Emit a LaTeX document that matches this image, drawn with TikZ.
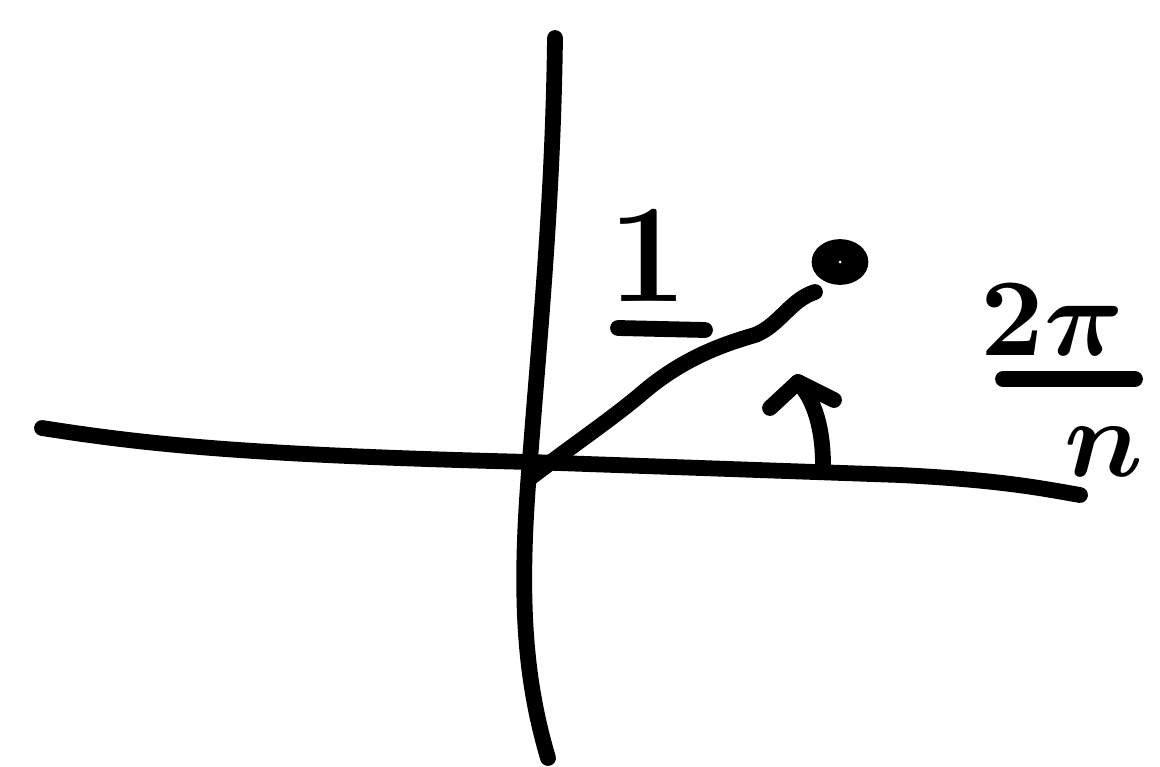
\documentclass[tikz,border=0pt]{standalone}
\usepackage{graphicx}
\usetikzlibrary{calc,shapes.geometric}
\begin{document}
\begin{tikzpicture}[x=0.02cm,y=-0.02cm,
  ink/.style={line width=9pt,line cap=round,line join=round,black},
  lbl/.style={inner sep=0pt}]
\useasboundingbox (0,0) rectangle (1160,767);
% named points
\coordinate (vtop) at (555,38);
\coordinate (vmid) at (530,460);
\coordinate (vbot) at (548,758);
\coordinate (hleft) at (42,428);
\coordinate (hright) at (1080,495);
\coordinate (origin) at (530,478);
\coordinate (vecend) at (815,292);
\coordinate (arcfoot) at (823,465);
\coordinate (arctip) at (798,382);
% axes
\draw[ink] (vtop) .. controls (553,200) and (540,330) .. (vmid)
  .. controls (518,600) and (525,680) .. (vbot);
\draw[ink] (hleft) .. controls (150,445) and (250,455) .. (530,462)
  -- (900,475) .. controls (1000,480) and (1040,488) .. (hright);
% vector
\draw[ink] (origin) .. controls (580,440) and (610,420) .. (640,395)
  .. controls (680,360) and (720,345) .. (755,335)
  .. controls (780,325) and (790,300) .. (vecend);
% point
\node[draw=black,fill=black,ellipse,minimum width=1.1cm,minimum height=0.88cm,inner sep=0pt,line width=1pt] (pt) at (840,262) {};
\fill[white] (pt.center) circle (0.03cm);
% angle arrow
\draw[ink] (arcfoot) .. controls (823,430) and (815,400) .. (arctip);
\draw[ink] (770,408) -- (arctip) -- (834,400);
% labels
\node[lbl,font=\fontsize{80}{90}\selectfont\bfseries] (one) at (648,255) {1};
\coordinate (barl) at (618,328);
\coordinate (barr) at (705,330);
\draw[ink] (barl) -- (barr);
\node[lbl] (num) at (1052,320) {\scalebox{6.3}{\boldmath$2\pi$}};
\coordinate (fbl) at (1003,379);
\coordinate (fbr) at (1135,379);
\draw[ink] (fbl) -- (fbr);
\node[lbl] (den) at (1104,452) {\scalebox{6.3}{\boldmath$n$}};
\end{tikzpicture}
\end{document}
